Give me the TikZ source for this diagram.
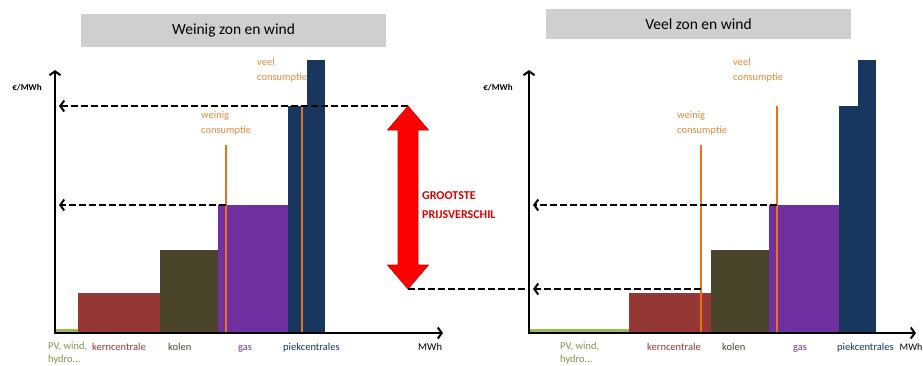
\documentclass[tikz,border=0pt]{standalone}
\usepackage{fontspec}
\setmainfont{Carlito}
\usetikzlibrary{arrows.meta}

\definecolor{pvgreen}{HTML}{9BBB59}
\definecolor{kernred}{HTML}{953735}
\definecolor{kolenolive}{HTML}{4A452A}
\definecolor{gaspurple}{HTML}{7030A0}
\definecolor{piekblue}{HTML}{17375E}
\definecolor{consorange}{HTML}{E8731A}
\definecolor{constext}{HTML}{E08A3C}
\definecolor{titlegray}{HTML}{CFCFCF}
\definecolor{gapred}{HTML}{FF0000}

\tikzset{
  axis/.style={line width=2.4pt,-{Straight Barb[length=4pt,width=11pt,line width=2pt]}},
  price/.style={line width=2pt,dash pattern=on 7pt off 3pt,-{Straight Barb[length=4pt,width=11pt,line width=2pt]}},
  demand/.style={draw=consorange,line width=1.8pt},
  titlebox/.style={fill=titlegray,minimum width=305pt,inner sep=0pt,font=\fontsize{15.5}{18}\selectfont},
  plantlabel/.style={anchor=north west,inner sep=0pt,text height=7.5pt,text depth=2pt,font=\fontsize{10.5}{13}\selectfont},
  demandlabel/.style={anchor=north west,inner sep=0pt,align=left,text=constext,font=\fontsize{10.5}{15}\selectfont},
  unitlabel/.style={inner sep=0pt,font=\bfseries\fontsize{9}{11}\selectfont}
}

\begin{document}
\begin{tikzpicture}[x=1pt,y=-1pt]
\useasboundingbox (0,0) rectangle (923,365);

% Weinig zon en wind
\node[titlebox,minimum height=33pt] (titleL) at (233.5,30.5) {Weinig zon en wind};
\fill[pvgreen] (55,329) rectangle (78,333);
\fill[kernred] (78,293) rectangle (160,333);
\fill[kolenolive] (160,250) rectangle (218,333);
\fill[gaspurple] (218,205) rectangle (288,333);
\fill[piekblue] (288,106) rectangle (307,333);
\fill[piekblue] (307,60) rectangle (325,333);

\coordinate (weinigL) at (226,145);
\coordinate (veelL) at (302,107);
\draw[demand] (weinigL) -- (226,333);
\draw[demand] (veelL) -- (302,333);
\node[demandlabel] (weinigTxtL) at (201,111) {weinig\\consumptie};
\node[demandlabel] (veelTxtL) at (257,58) {veel\\consumptie};

\coordinate (originL) at (55,333);
\coordinate (yTopL) at (55,70);
\coordinate (xEndL) at (443,333);
\coordinate (highL) at (408,106);
\coordinate (tipHighL) at (59,106);
\coordinate (gasL) at (226,205);
\coordinate (tipGasL) at (59,205);
\draw[price] (highL) -- (tipHighL);
\draw[price] (gasL) -- (tipGasL);
\draw[axis] (originL) -- (yTopL);
\draw[axis] ([xshift=-1.2pt]originL) -- (xEndL);
\node[unitlabel] (eurL) at (27,88) {€/MWh};

\node[plantlabel,align=left,text height=,text depth=,text=pvgreen!80!black] (pvL) at (48,342) {PV, wind,\\hydro...};
\node[plantlabel,text=kernred] (kernL) at (92,343) {kerncentrale};
\node[plantlabel,text=kolenolive] (kolenL) at (168,343) {kolen};
\node[plantlabel,text=gaspurple] (gasTxtL) at (238,343) {gas};
\node[plantlabel,text=piekblue] (piekL) at (283,343) {piekcentrales};
\node[plantlabel] (mwhL) at (418,343) {MWh};

% grootste prijsverschil
\coordinate (lowR) at (408,289);
\fill[gapred,draw=red!80!black,line width=0.6pt]
  (highL) -- (428.5,130) -- (418,130) -- (418,265) -- (428.5,265) -- (lowR)
  -- (387.5,265) -- (398,265) -- (398,130) -- (387.5,130) -- cycle;
\node[anchor=north west,inner sep=0pt,align=left,text=gapred!85!black,font=\bfseries\fontsize{12}{19}\selectfont] (gapTxt) at (422,191) {GROOTSTE\\PRIJSVERSCHIL};

% Veel zon en wind
\node[titlebox,minimum height=30pt] (titleR) at (698.5,24) {Veel zon en wind};
\fill[pvgreen] (529,329) rectangle (629,333);
\fill[kernred] (629,293) rectangle (711,333);
\fill[kolenolive] (711,250) rectangle (769,333);
\fill[gaspurple] (769,205) rectangle (839,333);
\fill[piekblue] (839,106) rectangle (858,333);
\fill[piekblue] (858,60) rectangle (876,333);

\coordinate (weinigR) at (701,145);
\coordinate (veelR) at (777,106);
\draw[demand] (weinigR) -- (701,333);
\draw[demand] (veelR) -- (777,333);
\node[demandlabel] (weinigTxtR) at (677,111) {weinig\\consumptie};
\node[demandlabel] (veelTxtR) at (733,58) {veel\\consumptie};

\coordinate (originR) at (529,333);
\coordinate (yTopR) at (529,70);
\coordinate (xEndR) at (916,333);
\coordinate (gasR) at (777,205);
\coordinate (tipGasR) at (533,205);
\coordinate (kernR) at (701,289);
\coordinate (tipKernR) at (533,289);
\coordinate (axisLowR) at (529,289);
\draw[price] (gasR) -- (tipGasR);
\draw[price] (kernR) -- (tipKernR);
\draw[price,-] (lowR) -- (axisLowR);
\draw[axis] (originR) -- (yTopR);
\draw[axis] ([xshift=-1.2pt]originR) -- (xEndR);
\node[unitlabel] (eurR) at (498,88) {€/MWh};

\node[plantlabel,align=left,text height=,text depth=,text=pvgreen!80!black] (pvR) at (560,342) {PV, wind,\\hydro...};
\node[plantlabel,text=kernred] (kernTxtR) at (647,343) {kerncentrale};
\node[plantlabel,text=kolenolive] (kolenR) at (722,343) {kolen};
\node[plantlabel,text=gaspurple] (gasTxtR) at (793,343) {gas};
\node[plantlabel,text=piekblue] (piekR) at (837,343) {piekcentrales};
\node[plantlabel,font=\fontsize{10}{12}\selectfont] (mwhR) at (899.5,343) {MWh};
\end{tikzpicture}
\end{document}
